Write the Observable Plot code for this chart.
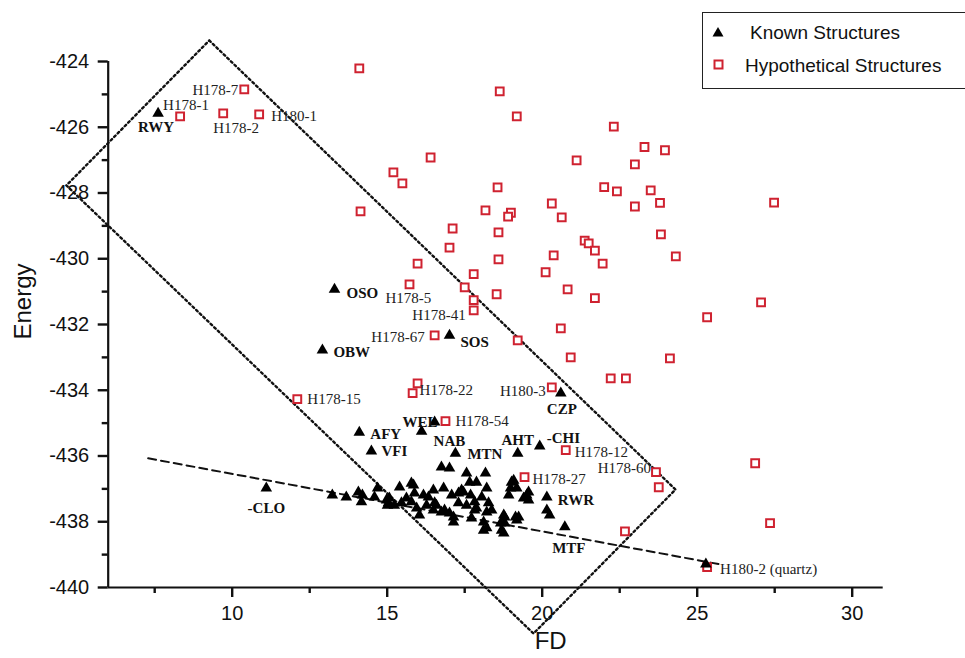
<!DOCTYPE html>
<html>
<head>
<meta charset="utf-8">
<script src="https://cdn.jsdelivr.net/npm/d3@7"></script>
<script src="https://cdn.jsdelivr.net/npm/@observablehq/plot@0.6"></script>
<style>
  body { margin: 0; background: #fff; }
  #wrap { position: relative; width: 965px; height: 658px; overflow: hidden; background: #fff; }
  #chart { position: absolute; left: 0; top: 0; }
  #legend { position: absolute; left: 702px; top: 12px; width: 300px; height: 75px; border: 1.5px solid #222; background: #fff;
            font-family: "Liberation Sans", Arial, sans-serif; font-size: 19px; color: #111; }
  .item { position: absolute; white-space: nowrap; line-height: 1; }
  .sym { position: absolute; }
</style>
</head>
<body>
<div id="wrap">
  <div id="chart"></div>
  <div id="legend"></div>
</div>
<script>
// ---------------- data ----------------
const knownFD = [7.61, 13.30, 12.91, 17.01, 20.60, 16.53, 14.10, 16.11, 14.49, 17.20, 19.21, 19.92, 20.15, 20.73, 11.10, 25.28,
  13.23, 13.68, 14.20, 14.17, 14.59, 14.69, 14.98, 15.01, 15.07, 15.23, 15.40, 15.62, 15.78, 15.85, 15.88, 15.95, 16.04, 16.17,
  16.27, 16.49, 16.59, 16.75, 17.01, 16.75, 16.82, 17.01, 17.08, 17.14, 17.14, 17.30, 17.40, 17.46, 17.56, 17.56, 17.66, 17.69,
  17.72, 17.82, 17.88, 17.88, 18.05, 18.11, 18.11, 18.17, 18.21, 18.21, 18.27, 18.37, 18.66, 18.76, 18.76, 18.79, 18.92, 18.98,
  19.08, 19.14, 19.18, 19.24, 19.40, 19.50, 19.56, 20.15, 20.24, 19.01, 19.56, 18.69, 18.79, 18.21, 19.18, 15.78, 14.07, 16.33,
  16.53, 17.30, 17.82, 16.85, 16.49, 15.46, 15.04];
const knownEnergy = [-425.58, -430.93, -432.78, -432.33, -434.09, -434.97, -435.28, -435.25, -435.85, -435.92, -435.92, -435.70, -437.25, -438.16, -436.98, -439.29,
  -437.19, -437.25, -437.19, -437.40, -437.25, -436.98, -437.34, -437.50, -437.28, -437.50, -436.95, -437.28, -437.40, -436.89, -437.13, -437.59, -437.80, -437.19,
  -437.50, -437.04, -437.50, -436.34, -436.37, -437.71, -436.98, -437.74, -437.19, -438.01, -437.86, -437.43, -437.04, -437.10, -436.52, -437.50, -436.80, -437.19,
  -437.89, -437.65, -436.80, -437.59, -437.25, -438.01, -438.26, -436.52, -436.98, -437.71, -437.43, -437.65, -438.04, -438.35, -437.80, -437.86, -437.19, -436.98,
  -436.74, -437.86, -436.98, -437.86, -437.28, -437.19, -437.34, -437.65, -437.80, -436.80, -437.10, -438.26, -438.04, -438.19, -437.95, -436.83, -437.10, -437.25,
  -437.43, -437.13, -437.40, -437.65, -437.65, -437.43, -437.43];
const knownNames = ["RWY", "OSO", "OBW", "SOS", "CZP", "WEL", "AFY", "NAB", "VFI", "MTN", "AHT", "-CHI", "RWR", "MTF", "-CLO"];

const hypFD = [8.32, 10.39, 9.71, 10.87, 15.72, 17.79, 16.53, 12.10, 15.82, 20.31, 16.88, 20.76, 19.43, 23.67, 25.32,
  14.10, 18.63, 19.18, 22.31, 16.40, 15.20, 15.49, 21.11, 14.14, 18.56, 18.17, 18.99, 18.90, 20.31, 20.63, 22.00,
  23.30, 23.96, 22.99, 22.41, 23.50, 22.99, 23.80, 27.48, 17.11, 18.59, 17.01, 18.59, 20.37, 21.37, 21.50, 21.70,
  21.95, 20.11, 15.98, 17.79, 17.50, 17.79, 18.53, 20.82, 21.70, 20.60, 19.21, 20.92, 22.21, 22.70, 15.98,
  23.83, 24.31, 27.06, 25.32, 24.12, 23.76, 22.67, 26.87, 27.35];
const hypEnergy = [-425.67, -424.85, -425.58, -425.61, -430.78, -431.57, -432.33, -434.27, -434.09, -433.91, -434.94, -435.82, -436.64, -436.49, -439.38,
  -424.21, -424.91, -425.67, -425.98, -426.92, -427.37, -427.71, -427.01, -428.56, -427.83, -428.53, -428.60, -428.72, -428.32, -428.74, -427.82,
  -426.60, -426.70, -427.13, -427.95, -427.92, -428.41, -428.30, -428.29, -429.08, -429.20, -429.66, -430.02, -429.90, -429.45, -429.53, -429.75,
  -430.15, -430.41, -430.15, -430.47, -430.87, -431.26, -431.08, -430.93, -431.20, -432.12, -432.48, -433.00, -433.64, -433.64, -433.79,
  -429.26, -429.93, -431.33, -431.78, -433.03, -436.95, -438.29, -436.22, -438.04];
const hypNames = ["H178-1", "H178-7", "H178-2", "H180-1", "H178-5", "H178-41", "H178-67", "H178-15", "H178-22", "H180-3",
  "H178-54", "H178-12", "H178-27", "H178-60", "H180-2 (quartz)"];

const diamondFD = [9.26, 24.30, 19.72, 4.65, 9.26];
const diamondEnergy = [-423.36, -437.02, -441.40, -427.77, -423.36];
const trendFD = [7.29, 25.70];
const trendEnergy = [-436.07, -439.29];

const xMajorTicks = [10, 15, 20, 25, 30];
const xMinorTicks = [7.5, 12.5, 17.5, 22.5, 27.5];
const yMajorTicks = [-424, -426, -428, -430, -432, -434, -436, -438, -440];
const yMinorTicks = [-425, -427, -429, -431, -433, -435, -437, -439];

// ---------------- layout / style ----------------
const RED = "#cf2230";
const INK = "#111";
const known = knownFD.map((x, i) => ({x, y: knownEnergy[i], name: knownNames[i] || ""}));
const hyp = hypFD.map((x, i) => ({x, y: hypEnergy[i], name: hypNames[i] || ""}));
const diamond = diamondFD.map((x, i) => ({x, y: diamondEnergy[i]}));
const trend = trendFD.map((x, i) => ({x, y: trendEnergy[i]}));

// label offsets in pixels: [dx, dy, anchor]
const place = {
  "RWY": [-2, 14, "middle"], "OSO": [12, 4, "start"], "OBW": [11, 2, "start"], "SOS": [11, 7, "start"],
  "CZP": [1, 16, "middle"], "WEL": [3, 0, "end"], "AFY": [11, 2, "start"], "NAB": [12, 10, "start"],
  "VFI": [10, 0, "start"], "MTN": [12, 1, "start"], "AHT": [0, -13, "middle"], "-CHI": [7, -8, "start"],
  "RWR": [11, 3, "start"], "MTF": [4, 21, "middle"], "-CLO": [0, 20, "middle"],
  "H178-1": [-17, -11, "start"], "H178-7": [-6, 1, "end"], "H178-2": [-10, 15, "start"], "H180-1": [12, 2, "start"],
  "H178-5": [-24, 14, "start"], "H178-41": [-8, 5, "end"], "H178-67": [-10, 2, "end"], "H178-15": [10, 0, "start"],
  "H178-22": [7, -3, "start"], "H180-3": [-6, 4, "end"], "H178-54": [10, 0, "start"], "H178-12": [9, 2, "start"],
  "H178-27": [8, 2, "start"], "H178-60": [-5, -4, "end"], "H180-2 (quartz)": [13, 2, "start"]
};

const labelMarks = [];
for (const d of known.filter(d => d.name)) {
  const [dx, dy, a] = place[d.name];
  labelMarks.push(Plot.text([d], {x: "x", y: "y", text: "name", dx, dy, textAnchor: a,
    fontFamily: "Liberation Serif, Times New Roman, serif", fontSize: 15, fontWeight: "bold", fill: "#111"}));
}
for (const d of hyp.filter(d => d.name)) {
  const [dx, dy, a] = place[d.name];
  labelMarks.push(Plot.text([d], {x: "x", y: "y", text: "name", dx, dy, textAnchor: a,
    fontFamily: "Liberation Serif, Times New Roman, serif", fontSize: 15, fill: "#222"}));
}

const chart = Plot.plot({
  width: 965, height: 658,
  marginLeft: 107.7, marginRight: 82.3, marginTop: 61, marginBottom: 71,
  x: {domain: [6, 31]},
  y: {domain: [-440, -424]},
  style: {fontFamily: "Liberation Sans, Arial, sans-serif", fontSize: "20px", color: INK, background: "white", overflow: "visible"},
  marks: [
    Plot.line(diamond, {x: "x", y: "y", stroke: INK, strokeWidth: 2.4, strokeDasharray: "2 3"}),
    Plot.line(trend, {x: "x", y: "y", stroke: INK, strokeWidth: 2, strokeDasharray: "8 5"}),
    Plot.dot(hyp, {x: "x", y: "y", symbol: "square", r: 4.4, stroke: RED, strokeWidth: 2, fill: "white"}),
    Plot.dot(known, {x: "x", y: "y", symbol: "triangle", r: 4.3, fill: "#000", stroke: "none"}),
    ...labelMarks,
    Plot.axisX(xMajorTicks, {tickSize: 10, tickPadding: 8, stroke: INK, strokeWidth: 2.4, label: null, tickFormat: d => String(d), fontSize: 20}),
    Plot.axisX(xMinorTicks, {tickSize: 6, stroke: INK, strokeWidth: 2.4, label: null, tickFormat: () => ""}),
    Plot.axisY(yMajorTicks, {tickSize: 10, tickPadding: 9, stroke: INK, strokeWidth: 2.4, label: null, tickFormat: d => String(d), fontSize: 20}),
    Plot.axisY(yMinorTicks, {tickSize: 6, stroke: INK, strokeWidth: 2.4, label: null, tickFormat: () => ""}),
    Plot.ruleY([-440], {strokeWidth: 2.2, stroke: INK}),
    Plot.ruleX([6], {strokeWidth: 2.2, stroke: INK}),
    Plot.text(["Energy"], {frameAnchor: "left", text: d => d, rotate: -90, dx: -85, dy: 15, fontSize: 24}),
    Plot.text(["FD"], {frameAnchor: "bottom", text: d => d, dx: 55, dy: 61, fontSize: 24})
  ]
});
document.getElementById("chart").appendChild(chart);

// legend
const lg = document.getElementById("legend");
lg.innerHTML = `
  <svg class="sym" style="left:8px;top:12px" width="14" height="14"><path d="M7,2 L12.5,11.5 L1.5,11.5 Z" fill="#000"/></svg>
  <div class="item" style="left:47px;top:10px">Known Structures</div>
  <svg class="sym" style="left:9px;top:45px" width="14" height="14"><rect x="2.5" y="2.5" width="8" height="8" fill="#fff" stroke="${RED}" stroke-width="2"/></svg>
  <div class="item" style="left:42px;top:43px">Hypothetical Structures</div>`;
</script>
</body>
</html>
